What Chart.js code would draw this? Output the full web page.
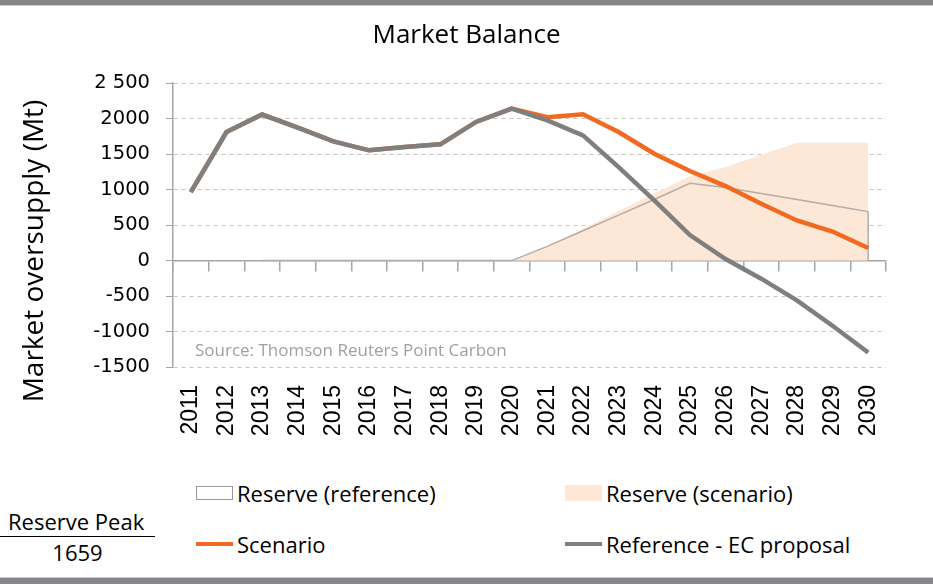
<!DOCTYPE html>
<html>
<head>
<meta charset="utf-8">
<script src="https://cdn.jsdelivr.net/npm/chart.js@4"></script>
<style>
	body { margin: 0; background: #fff; }
	#wrap { position: relative; width: 933px; height: 584px; overflow: hidden; font-family: "Open Sans", sans-serif; }
	#topband { position: absolute; left: 0; top: 0; width: 933px; height: 5px; background: #86868a; border-bottom: 1px solid #c9c9c9; }
	#bottomband { position: absolute; left: 0; bottom: 0; width: 933px; height: 6px; background: #86868a; border-top: 1px solid #c9c9c9; }
	canvas { position: absolute; left: 0; top: 0; }
	.item { position: absolute; display: flex; align-items: center; font-size: 22px; color: #000; white-space: nowrap; }
	.swatch { width: 37px; margin-right: 4px; box-sizing: border-box; }
	#peak { position: absolute; left: 0; top: 506px; width: 155px; text-align: center; font-size: 22px; line-height: 30px; }
	#peak .label { border-bottom: 1.5px solid #000; padding-left: 8px; text-align: left; }
</style>
</head>
<body>
<div id="wrap">
	<canvas id="chart" width="933" height="470"></canvas>
	<div id="topband"></div>
	<div id="legend"></div>
	<div id="peak"></div>
	<div id="bottomband"></div>
</div>
<script>
// Market balance, Mt
const years = ["2011", "2012", "2013", "2014", "2015", "2016", "2017", "2018", "2019", "2020",
	"2021", "2022", "2023", "2024", "2025", "2026", "2027", "2028", "2029", "2030"];
const referenceEC = [965, 1812, 2058, 1874, 1680, 1554, 1601, 1638, 1954, 2142,
	1977, 1765, 1318, 847, 360, 22, -255, -560, -918, -1295];
const scenario = [965, 1812, 2058, 1874, 1680, 1554, 1601, 1638, 1954, 2142,
	2020, 2062, 1812, 1506, 1262, 1050, 800, 565, 410, 177];
const reserveReference = [null, null, 0, 0, 0, 0, 0, 0, 0, 0,
	200, 420, 640, 860, 1090, 1030, 945, 860, 775, 690];
const reserveScenario = [null, null, null, null, null, null, null, null, null, 0,
	200, 450, 700, 950, 1190, 1320, 1490, 1659, 1659, 1659];
const yTicks = [-1500, -1000, -500, 0, 500, 1000, 1500, 2000, 2500];
const yTickLabels = ["-1500", "-1000", "-500", "0", "500", "1000", "1500", "2000", "2 500"];
const legendOrder = ["Reserve (reference)", "Reserve (scenario)", "Scenario", "Reference - EC proposal"];

const ORANGE = "#f26a21";
const GREY = "#7f7f7f";
const PEACH = "#fde8d8";
const RESERVE_LINE = "#b5aca6";
const AXIS = "#a6a6a6";

const lastYear = years[years.length - 1];
const lastReserve = reserveReference[reserveReference.length - 1];

const extraText = {
	id: "extraText",
	afterDraw(chart) {
		const { ctx, chartArea } = chart;
		ctx.save();
		ctx.fillStyle = "#a0a0a0";
		ctx.font = "17px 'Open Sans'";
		ctx.textBaseline = "middle";
		ctx.fillText("Source: Thomson Reuters Point Carbon", chartArea.left + 22, chartArea.bottom - 16);
		ctx.translate(35, 251);
		ctx.rotate(-Math.PI / 2);
		ctx.fillStyle = "#000";
		ctx.font = "28px 'Open Sans'";
		ctx.textAlign = "center";
		ctx.fillText("Market oversupply (Mt)", 0, 0);
		ctx.restore();
	},
};

const chart = new Chart(document.getElementById("chart"), {
	type: "line",
	data: {
		labels: years,
		datasets: [
			{
				label: "Reference - EC proposal",
				data: referenceEC,
				borderColor: GREY,
				borderWidth: 4.5,
				pointRadius: 0,
				tension: 0,
			},
			{
				label: "Scenario",
				data: scenario,
				borderColor: ORANGE,
				borderWidth: 4.5,
				pointRadius: 0,
				tension: 0,
			},
			{
				label: "Reserve (reference)",
				data: reserveReference,
				borderColor: RESERVE_LINE,
				backgroundColor: "#ffffff",
				borderWidth: 1.5,
				pointRadius: 0,
				fill: false,
			},
			{
				label: "",
				data: [{ x: lastYear, y: lastReserve }, { x: lastYear, y: 0 }],
				borderColor: RESERVE_LINE,
				borderWidth: 1.5,
				pointRadius: 0,
			},
			{
				label: "Reserve (scenario)",
				data: reserveScenario,
				borderWidth: 0,
				borderColor: "rgba(0,0,0,0)",
				backgroundColor: PEACH,
				pointRadius: 0,
				fill: "origin",
			},
		],
	},
	options: {
		responsive: false,
		animation: false,
		layout: { padding: { left: 47, right: 47, top: 0, bottom: 23 } },
		plugins: {
			legend: { display: false },
			tooltip: { enabled: false },
			title: {
				display: true,
				text: "Market Balance",
				color: "#000",
				font: { family: "Open Sans", size: 26, weight: "normal", lineHeight: 1.2 },
				padding: { top: 20, bottom: 32 },
			},
		},
		scales: {
			x: {
				offset: true,
				grid: { display: false, drawTicks: false },
				border: { display: false },
				ticks: {
					color: "#000",
					font: { family: "Liberation Sans", size: 23 },
					minRotation: 90,
					maxRotation: 90,
					padding: 18,
					autoSkip: false,
				},
				afterFit: (scale) => {
					scale.height = 80;
				},
			},
			x2: {
				type: "category",
				position: { y: 0 },
				offset: true,
				grid: {
					offset: true,
					drawOnChartArea: false,
					drawTicks: true,
					tickLength: 10,
					color: AXIS,
					lineWidth: 1.5,
				},
				border: { display: true, color: AXIS, width: 1.5 },
				ticks: { display: false },
			},
			y: {
				min: -1500,
				max: 2500,
				afterBuildTicks: (scale) => {
					scale.ticks = yTicks.map((v) => ({ value: v }));
				},
				grid: {
					color: (ctx) => (ctx.tick && ctx.tick.value === 0 ? "rgba(0,0,0,0)" : "#c4c4c4"),
					lineWidth: 1,
					drawTicks: true,
					tickLength: 7,
					tickColor: AXIS,
					tickBorderDash: [],
				},
				border: { display: true, color: AXIS, width: 1.5, dash: [4, 4] },
				ticks: {
					color: "#000",
					font: { family: "DejaVu Sans", size: 19.5 },
					padding: 16,
					callback: (value) => yTickLabels[yTicks.indexOf(value)],
				},
				afterFit: (scale) => {
					scale.width = 126;
				},
			},
		},
	},
	plugins: [extraText],
});

// HTML legend in two columns, built from the datasets
const legendPos = [
	{ left: 196, top: 478 },
	{ left: 565, top: 478 },
	{ left: 196, top: 529 },
	{ left: 565, top: 529 },
];
const legendEl = document.getElementById("legend");
legendOrder.forEach((name, i) => {
	const ds = chart.data.datasets.find((d) => d.label === name);
	const item = document.createElement("div");
	item.className = "item";
	item.style.left = legendPos[i].left + "px";
	item.style.top = legendPos[i].top + "px";
	const sw = document.createElement("span");
	sw.className = "swatch";
	if (ds.fill === false && ds.backgroundColor) {
		sw.style.height = "14px";
		sw.style.background = ds.backgroundColor;
		sw.style.border = "1px solid #9a9a9a";
	} else if (ds.fill) {
		sw.style.height = "16px";
		sw.style.background = ds.backgroundColor;
	} else {
		sw.style.height = "4px";
		sw.style.background = ds.borderColor;
	}
	item.appendChild(sw);
	item.appendChild(document.createTextNode(name));
	legendEl.appendChild(item);
});

document.getElementById("peak").innerHTML =
	'<div class="label">Reserve Peak</div><div>' + Math.max(...reserveScenario.filter((v) => v != null)) + "</div>";
</script>
</body>
</html>
